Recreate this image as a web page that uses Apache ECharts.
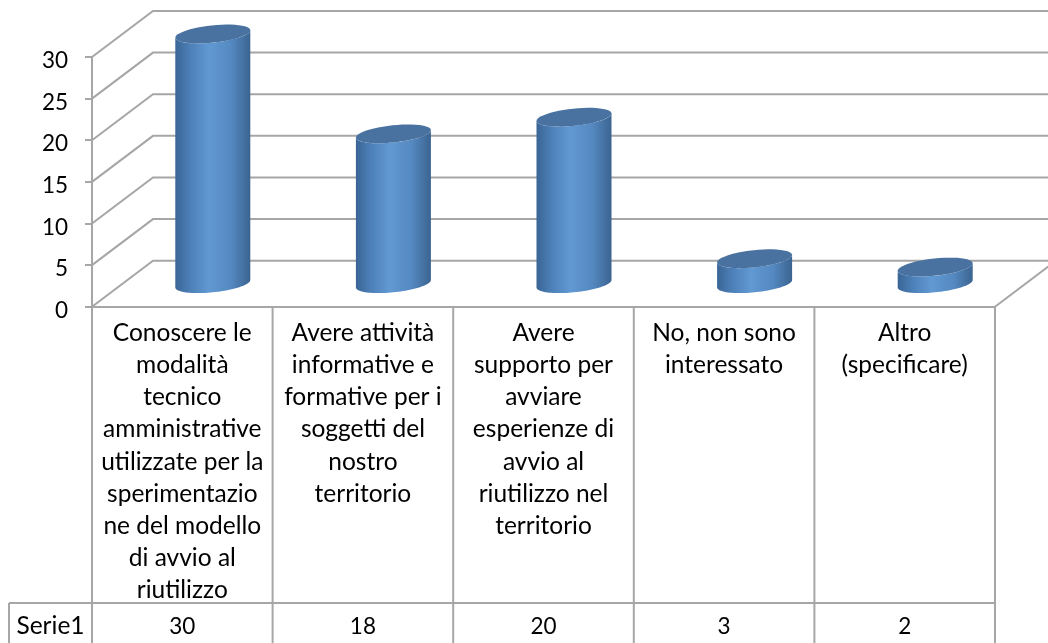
<!DOCTYPE html>
<html><head><meta charset="utf-8">
<style>html,body{margin:0;padding:0;background:#fff}#c{width:1048px;height:643px}</style>
<script src="https://cdn.jsdelivr.net/npm/echarts@6/dist/echarts.min.js"></script>
</head><body><div id="c"></div>
<script>
const categories = [
 "Conoscere le\nmodalità\ntecnico\namministrative\nutilizzate per la\nsperimentazio\nne del modello\ndi avvio al\nriutilizzo",
 "Avere attività\ninformative e\nformative per i\nsoggetti del\nnostro\nterritorio",
 "Avere\nsupporto per\navviare\nesperienze di\navvio al\nriutilizzo nel\nterritorio",
 "No, non sono\ninteressato",
 "Altro\n(specificare)"
];
const seriesName = "Serie1";
const values = [30, 18, 20, 3, 2];
const yTicks = [0, 5, 10, 15, 20, 25, 30];

const FONT = "Lato";
const FS = 24.5;
const FN = 22.5;
const LINE = "#a6a6a6";
const LW = 2;
const DX = 61, DY = 46;
const BOTTOM = 643, ROW = 603, BOX = 9;
const A = 37.7, B = 8.6, TH = -6 * Math.PI / 180;

function ell(cx, cy, t) {
  return [cx + A * Math.cos(t) * Math.cos(TH) - B * Math.sin(t) * Math.sin(TH),
          cy + A * Math.cos(t) * Math.sin(TH) + B * Math.sin(t) * Math.cos(TH)];
}
const T0 = Math.atan2(-B * Math.sin(TH), A * Math.cos(TH));
function arc(cx, cy, from, to) {
  const p = [];
  for (let i = 0; i <= 48; i++) p.push(ell(cx, cy, from + (to - from) * i / 48));
  return p;
}
const line = (pts) => ({
  type: 'polyline', shape: { points: pts },
  style: { stroke: LINE, lineWidth: LW, fill: null }, silent: true
});

const chart = echarts.init(document.getElementById('c'), null, { renderer: 'canvas' });
chart.setOption({
  animation: false,
  backgroundColor: '#fff',
  grid: { left: 92, right: 53, top: 57, height: 249.7, containLabel: false },
  xAxis: [{
    type: 'category', data: categories, position: 'bottom',
    axisLine: { lineStyle: { color: LINE, width: LW } }, axisTick: { show: false }, splitLine: { show: false },
    axisLabel: { interval: 0, color: '#000', fontFamily: FONT, fontSize: FS, lineHeight: 32.2, margin: 10, align: 'center', verticalAlign: 'top' }
  }, {
    type: 'category', data: values.map(String), position: 'bottom', offset: 300,
    axisLine: { show: false }, axisTick: { show: false },
    axisLabel: { interval: 0, color: '#000', fontFamily: FONT, fontSize: FN, margin: 9, verticalAlign: 'top' }
  }],
  yAxis: {
    type: 'value', min: 0, max: 30, interval: 5,
    axisLine: { show: true, lineStyle: { color: LINE, width: LW } },
    axisTick: { show: true, length: 7, lineStyle: { color: LINE, width: LW } },
    splitLine: { show: false },
    axisLabel: { color: '#000', fontFamily: FONT, fontSize: FN, margin: 24, verticalAlign: 'top', lineHeight: 8 }
  },
  series: [{
    type: 'custom', name: 'walls', clip: false, silent: true, z: 1,
    data: yTicks.map(t => [0, t]),
    renderItem(params, api) {
      const w = api.size([1, 0])[0];
      const p = api.coord([0, api.value(1)]);
      const x0 = p[0] - w / 2, x1 = x0 + w * categories.length, y = p[1];
      const children = [line([[x0, y], [x0 + DX, y - DY], [x1 + DX, y - DY]])];
      if (api.value(1) === 0) children.push(line([[x1, y], [x1 + DX, y - DY]]));
      return { type: 'group', children };
    }
  }, {
    type: 'custom', name: 'table', clip: false, silent: true, z: 1,
    data: categories.map((c, i) => [i, 0]).concat([[categories.length, 0]]),
    renderItem(params, api) {
      const w = api.size([1, 0])[0];
      const i = api.value(0);
      const p = api.coord([0, 0]);
      const x = p[0] - w / 2 + i * w;
      const children = [line([[x, p[1]], [x, BOTTOM]])];
      if (i === 0) {
        children.push(line([[BOX, ROW], [p[0] - w / 2 + categories.length * w, ROW]]));
        children.push(line([[BOX, ROW], [BOX, BOTTOM]]));
        children.push({ type: 'text', silent: true, style: {
          text: seriesName, x: (BOX + x) / 2, y: 626, align: 'center', verticalAlign: 'middle',
          fontFamily: FONT, fontSize: FS, fill: '#000' } });
      }
      return { type: 'group', children };
    }
  }, {
    type: 'custom', name: seriesName, clip: false, z: 3,
    data: values.map((v, i) => [i, v]),
    renderItem(params, api) {
      const top = api.coord([api.value(0), api.value(1)]);
      const bot = api.coord([api.value(0), 0]);
      const cx = top[0] + DX / 2, ty = top[1] - DY / 2, by = bot[1] - DY / 2;
      const body = arc(cx, ty, T0 + Math.PI, T0).concat(arc(cx, by, T0, T0 + Math.PI));
      const grad = new echarts.graphic.LinearGradient(0, 0, 1, 0, [
        { offset: 0, color: '#3a6595' }, { offset: 0.2, color: '#4d80b8' },
        { offset: 0.45, color: '#6199d2' }, { offset: 0.75, color: '#5488c0' },
        { offset: 1, color: '#3b6490' }
      ]);
      return { type: 'group', children: [
        { type: 'polygon', shape: { points: body }, style: { fill: grad } },
        { type: 'polygon', shape: { points: arc(cx, ty, 0, Math.PI * 2) }, style: { fill: '#4a72a0' } }
      ]};
    }
  }]
});
</script></body></html>
